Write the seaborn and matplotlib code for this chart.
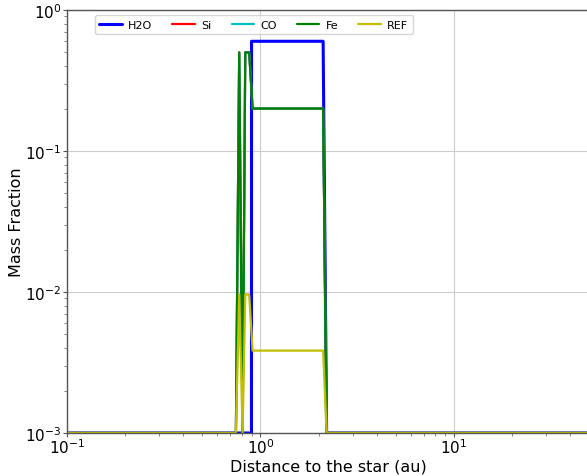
import matplotlib
matplotlib.use("Agg")
import matplotlib.pyplot as plt
import seaborn as sns
import numpy as np

# ---- data ----
h2o_x = [0.1, 0.899, 0.900, 2.11, 2.20, 50.0]
h2o_y = [1e-3, 1e-3, 0.60, 0.60, 1e-3, 1e-3]

fe_x = [0.1, 0.747, 0.777, 0.809, 0.835, 0.875, 0.911, 2.11, 2.20, 50.0]
fe_y = [1e-3, 1e-3, 0.50, 1e-3, 0.50, 0.50, 0.20, 0.20, 1e-3, 1e-3]

si_x = fe_x
si_y = fe_y
co_x = fe_x
co_y = fe_y

ref_x = [0.1, 0.747, 0.777, 0.809, 0.835, 0.875, 0.911, 2.11, 2.20, 50.0]
ref_y = [1e-3, 1e-3, 0.0096, 1e-3, 0.0096, 0.0096, 0.00384, 0.00384, 1e-3, 1e-3]

sns.set_style("whitegrid")
plt.rcParams['font.family'] = ['DejaVu Sans']
plt.rcParams['text.color'] = 'black'
plt.rcParams['axes.labelcolor'] = 'black'
plt.rcParams['xtick.color'] = 'black'
plt.rcParams['ytick.color'] = 'black'

fig = plt.figure(figsize=(5.87, 4.77), dpi=100)
ax = fig.add_axes([67/587, 43/477, 522/587, 423/477])

sns.lineplot(x=h2o_x, y=h2o_y, ax=ax, color='#0000ff', linewidth=2.2, label='H2O', sort=False, estimator=None)
sns.lineplot(x=si_x, y=si_y, ax=ax, color='#ff0000', linewidth=1.6, label='Si', sort=False, estimator=None)
sns.lineplot(x=co_x, y=co_y, ax=ax, color='#00bfbf', linewidth=1.6, label='CO', sort=False, estimator=None)
sns.lineplot(x=fe_x, y=fe_y, ax=ax, color='#008000', linewidth=1.6, label='Fe', sort=False, estimator=None)
sns.lineplot(x=ref_x, y=ref_y, ax=ax, color='#bfbf00', linewidth=1.6, label='REF', sort=False, estimator=None)

ax.set_xscale('log')
ax.set_yscale('log')
ax.set_xlim(0.1, 50)
ax.set_ylim(1e-3, 1)

ax.grid(True, which='major', color='#cccccc', linewidth=0.8)
ax.grid(False, which='minor')
for s in ax.spines.values():
    s.set_color('#555555')
    s.set_linewidth(1.0)

ax.tick_params(axis='both', which='major', labelsize=11, length=3, color='#555555',
               labelcolor='black', left=True, bottom=True, pad=1)
ax.tick_params(axis='x', which='major', pad=0)
ax.tick_params(axis='both', which='minor', length=2, color='#777777', left=True, bottom=True)

ax.set_xlabel('Distance to the star (au)', fontsize=11.5, labelpad=2)
ax.set_ylabel('Mass Fraction', fontsize=11.5, labelpad=1)

leg = ax.legend(loc='upper center', bbox_to_anchor=(0.358, 0.988), ncol=5, fontsize=8,
                frameon=True, borderaxespad=0, handlelength=2.0, columnspacing=1.8,
                handletextpad=0.6, fancybox=True)
leg.get_frame().set_edgecolor('#cccccc')

fig.savefig('out.png', dpi=100)
